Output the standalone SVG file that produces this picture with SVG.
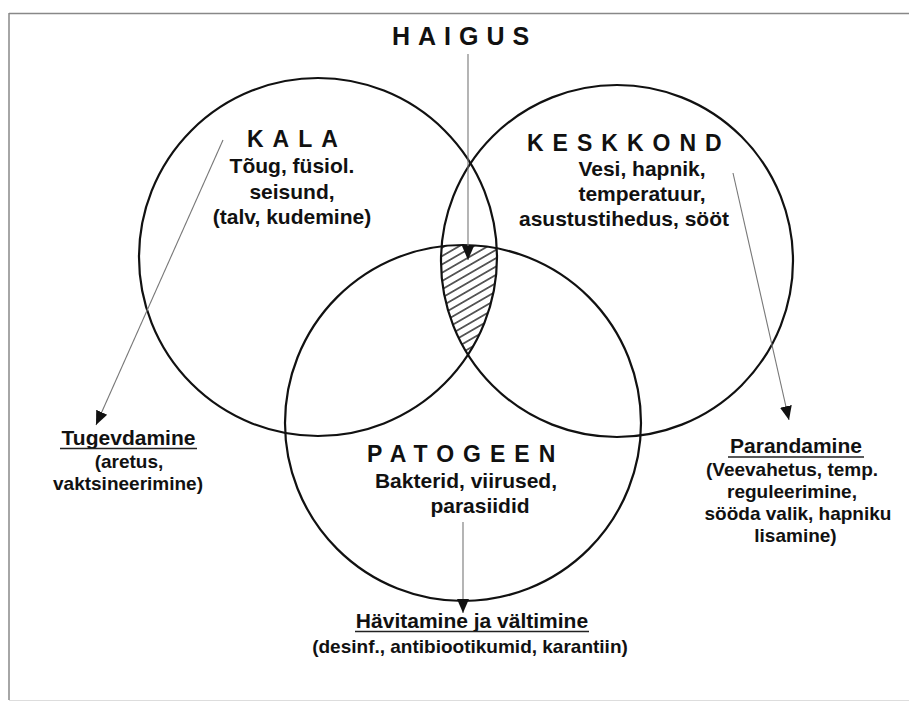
<svg xmlns="http://www.w3.org/2000/svg" width="909" height="702" viewBox="0 0 909 702">
<style>
text{font-family:"Liberation Sans",Arial,Helvetica,sans-serif;font-weight:bold;fill:#111}
.title{font-size:23px;letter-spacing:9px}
.body{font-size:21px;text-anchor:middle}
.sub{font-size:19px;text-anchor:middle}
.circ{fill:none;stroke:#111;stroke-width:2.2}
.ul{stroke:#222;stroke-width:1.4}
.conn{stroke:#777;stroke-width:1.1;fill:none;marker-end:url(#ah)}
.frame{stroke:#888;stroke-width:1.5}
</style>
<defs>
<marker id="ah" markerUnits="userSpaceOnUse" markerWidth="14" markerHeight="14" viewBox="0 0 14 12" refX="14" refY="6" orient="auto">
<path d="M0,0 L14,6 L0,12 Z" fill="#111"/>
</marker>
<pattern id="hatch" patternUnits="userSpaceOnUse" width="12" height="7.2" patternTransform="rotate(-30)">
<line x1="0" y1="3.6" x2="12" y2="3.6" stroke="#111" stroke-width="1.3"/>
</pattern>
<clipPath id="cK"><circle cx="318" cy="257" r="179"/></clipPath>
<clipPath id="cE"><circle cx="617" cy="261" r="176"/></clipPath>
<clipPath id="cP"><circle cx="463" cy="423" r="178"/></clipPath>
</defs>
<rect width="909" height="702" fill="#fff"/>
<g id="frame">
<line class="frame" x1="9" y1="13.5" x2="909" y2="13.5"/>
<line class="frame" x1="9" y1="13" x2="9" y2="700" stroke="#666"/>
<line x1="9" y1="700.5" x2="909" y2="700.5" stroke="#ddd" stroke-width="1"/>
</g>
<g id="intersection">
<g clip-path="url(#cK)"><g clip-path="url(#cE)"><g clip-path="url(#cP)">
<rect x="420" y="230" width="100" height="140" fill="url(#hatch)"/>
</g></g></g>
</g>
<g id="node-kala">
<circle class="circ" cx="318" cy="257" r="179"/>
<text class="title" x="247" y="147">KALA</text>
<text class="body" x="292" y="173">Tõug, füsiol.</text>
<text class="body" x="292" y="198.5">seisund,</text>
<text class="body" x="292" y="223.5">(talv, kudemine)</text>
</g>
<g id="node-keskkond">
<circle class="circ" cx="617" cy="261" r="176"/>
<text class="title" x="527" y="151">KESKKOND</text>
<text class="body" x="642" y="175.5">Vesi, hapnik,</text>
<text class="body" x="642" y="200.5">temperatuur,</text>
<text class="body" x="624" y="225.5">asustustihedus, sööt</text>
</g>
<g id="node-patogeen">
<circle class="circ" cx="463" cy="423" r="178"/>
<text class="title" x="367" y="461.5">PATOGEEN</text>
<text class="body" x="466" y="488">Bakterid, viirused,</text>
<text class="body" x="480" y="513">parasiidid</text>
</g>
<g id="node-haigus">
<text style="font-size:25px;letter-spacing:8px" x="392" y="45">HAIGUS</text>
</g>
<g id="node-tugevdamine">
<text class="body" x="128.5" y="445">Tugevdamine</text>
<line class="ul" x1="60" y1="448.5" x2="197" y2="448.5"/>
<text class="sub" x="129" y="468">(aretus,</text>
<text class="sub" x="128" y="490">vaktsineerimine)</text>
</g>
<g id="node-parandamine">
<text class="body" x="796" y="453">Parandamine</text>
<line class="ul" x1="728" y1="457" x2="864" y2="457"/>
<text class="sub" x="792" y="476">(Veevahetus, temp.</text>
<text class="sub" x="792" y="497.5">reguleerimine,</text>
<text class="sub" x="798" y="519.5">sööda valik, hapniku</text>
<text class="sub" x="795.5" y="541.5">lisamine)</text>
</g>
<g id="node-havitamine">
<text class="body" x="472" y="628">Hävitamine ja vältimine</text>
<line class="ul" x1="355" y1="631.5" x2="589" y2="631.5"/>
<text class="sub" x="470" y="653">(desinf., antibiootikumid, karantiin)</text>
</g>
<g id="connectors">
<line class="conn" x1="468" y1="54" x2="468" y2="260"/>
<line class="conn" x1="223" y1="140" x2="96" y2="425"/>
<line class="conn" x1="733" y1="173" x2="789" y2="420"/>
<line class="conn" x1="463" y1="522" x2="463" y2="613"/>
</g>
</svg>
